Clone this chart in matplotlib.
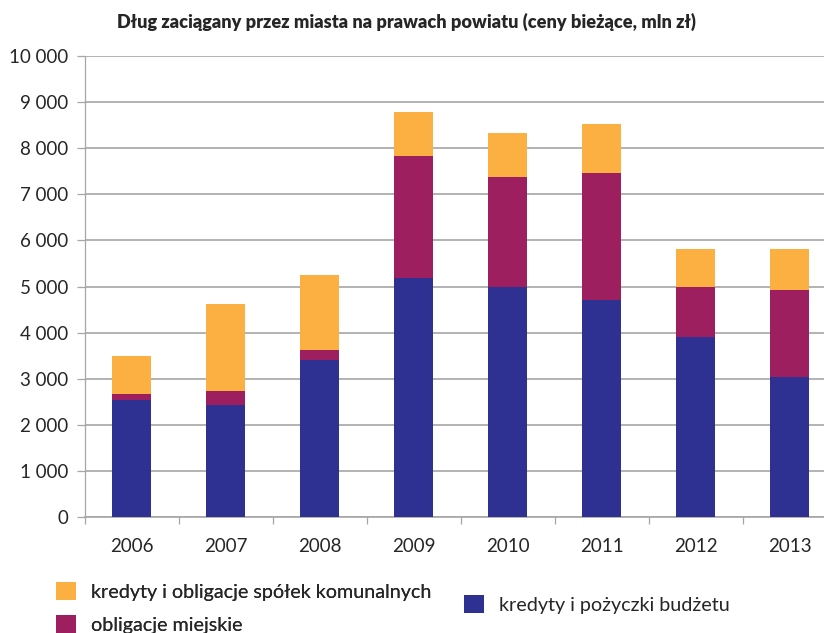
import numpy as np
import matplotlib
matplotlib.use("Agg")
import matplotlib.pyplot as plt

# data (mln zł)
years = ["2006", "2007", "2008", "2009", "2010", "2011", "2012", "2013"]
budzet = [2530, 2425, 3405, 5175, 5000, 4715, 3895, 3030]
obligacje = [140, 305, 210, 2650, 2375, 2745, 1100, 1900]
spolki = [820, 1900, 1645, 950, 950, 1060, 820, 885]

yticks = [0, 1000, 2000, 3000, 4000, 5000, 6000, 7000, 8000, 9000, 10000]
ytick_labels = ["0", "1 000", "2 000", "3 000", "4 000", "5 000",
                "6 000", "7 000", "8 000", "9 000", "10 000"]

title = "Dług zaciągany przez miasta na prawach powiatu (ceny bieżące, mln zł)"
lab_budzet = "kredyty i pożyczki budżetu"
lab_oblig = "obligacje miejskie"
lab_spolki = "kredyty i obligacje spółek komunalnych"

c_blue = "#2E3192"
c_purple = "#9E1F5F"
c_orange = "#FBB041"
grid_c = "#a6a6a6"
text_c = "#262626"

plt.rcParams["font.family"] = ["Lato", "DejaVu Sans"]

W, H = 824, 633
fig = plt.figure(figsize=(W / 100, H / 100), dpi=100)
ax = fig.add_axes([84.5 / W, 1 - 517 / H, (836.5 - 84.5) / W, (517 - 56) / H])

x = np.arange(len(years))
bw = 0.415
b1 = ax.bar(x, budzet, bw, color=c_blue, zorder=3)
bottom2 = np.array(budzet)
b2 = ax.bar(x, obligacje, bw, bottom=bottom2, color=c_purple, zorder=3)
bottom3 = bottom2 + np.array(obligacje)
b3 = ax.bar(x, spolki, bw, bottom=bottom3, color=c_orange, zorder=3)

ax.set_xlim(-0.5, len(years) - 0.5)
ax.set_ylim(0, 10000)

ax.set_yticks(yticks)
ax.set_yticklabels(ytick_labels)
ax.yaxis.grid(True, color=grid_c, linewidth=1.2, zorder=0)
ax.tick_params(axis="y", length=5.5, width=0.9, color=grid_c, pad=6,
               labelsize=13.5, labelcolor=text_c)

ax.set_xticks(x)
ax.set_xticklabels(years)
ax.set_xticks(np.arange(-0.5, len(years)), minor=True)
ax.tick_params(axis="x", which="major", length=0, pad=15,
               labelsize=13.5, labelcolor=text_c)
ax.tick_params(axis="x", which="minor", length=5, width=0.9, color=grid_c)

for s in ["top", "right"]:
    ax.spines[s].set_visible(False)
ax.spines["left"].set_color(grid_c)
ax.spines["left"].set_linewidth(0.9)
ax.spines["bottom"].set_color(grid_c)
ax.spines["bottom"].set_linewidth(1.2)

fig.text(117 / W, 1 - 22 / H, title, fontsize=13.05, fontweight="heavy",
         color=text_c, ha="left", va="center")

leg1 = fig.legend([b3, b2], [lab_spolki, lab_oblig], loc="upper left",
                  bbox_to_anchor=(56 / W, 1 - 582 / H), frameon=False,
                  fontsize=14.2, handlelength=1.0, handleheight=1.0,
                  handletextpad=0.75, labelspacing=0.75, borderpad=0,
                  borderaxespad=0, labelcolor=text_c)
leg2 = fig.legend([b1], [lab_budzet], loc="upper left",
                  bbox_to_anchor=(464 / W, 1 - 595 / H), frameon=False,
                  fontsize=14.2, handlelength=1.0, handleheight=1.0,
                  handletextpad=0.75, borderpad=0, borderaxespad=0,
                  labelcolor=text_c)
fig.add_artist(leg1)

fig.savefig("out.png", dpi=100)
